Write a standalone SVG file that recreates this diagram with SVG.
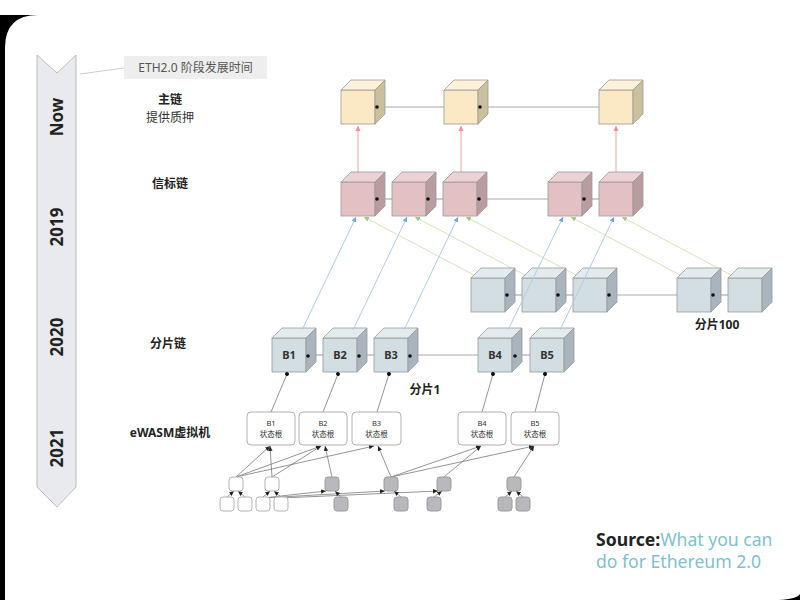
<svg xmlns="http://www.w3.org/2000/svg" width="800" height="600" viewBox="0 0 800 600">
<style>
text{font-family:"Noto Sans","Noto Sans CJK SC",sans-serif;}
.lbl{font-size:12px;font-weight:bold;fill:#222;text-anchor:middle;}
.yr{font-size:17px;font-weight:bold;fill:#222;text-anchor:middle;}
.stroke{stroke:#9a9a9a;stroke-width:0.8;}
.yf{fill:#fbe9c6}.yt{fill:#fdf2d9}.ys{fill:#cbc09e}
.pf{fill:#e3c0c3}.pt{fill:#ecd2d4}.ps{fill:#b89c9f}
.bf{fill:#d3dee3}.bt{fill:#e3ebef}.bs{fill:#a9b4be}
.chain{stroke:#aaaaaa;stroke-width:1.2;fill:none}
.pink{stroke:#f4a9b0;stroke-width:1.1;fill:none}
.blue{stroke:#aecde6;stroke-width:1;fill:none}
.green{stroke:#d3e3bf;stroke-width:1;fill:none}
.gl{stroke:#7a7a7a;stroke-width:0.8;fill:none}
.box{fill:#fff;stroke:#b0b0b0;stroke-width:1}
.bt1{font-size:7.5px;fill:#333;text-anchor:middle;}
.cl{font-size:11px;font-weight:bold;fill:#333;text-anchor:middle;}
.wsq{fill:#fff;stroke:#b4b4b4;stroke-width:1}
.gsq{fill:#b9b9bd;stroke:#9c9c9c;stroke-width:1}
</style>
<defs>
<marker id="dot" markerUnits="userSpaceOnUse" markerWidth="6" markerHeight="6" refX="3" refY="3" orient="auto"><circle cx="3" cy="3" r="2" fill="#111"/></marker>
<marker id="ap" markerUnits="userSpaceOnUse" markerWidth="6" markerHeight="6" refX="5" refY="3" orient="auto"><path d="M0,0.5 L5,3 L0,5.5 Z" fill="#f08a96"/></marker>
<marker id="ab" markerUnits="userSpaceOnUse" markerWidth="6" markerHeight="6" refX="5" refY="3" orient="auto"><path d="M0,0.5 L5,3 L0,5.5 Z" fill="#6fa8d6"/></marker>
<marker id="ag" markerUnits="userSpaceOnUse" markerWidth="6" markerHeight="6" refX="5" refY="3" orient="auto"><path d="M0,0.5 L5,3 L0,5.5 Z" fill="#a9c47f"/></marker>
<marker id="ak" markerUnits="userSpaceOnUse" markerWidth="6" markerHeight="6" refX="5" refY="3" orient="auto"><path d="M0,0.8 L5,3 L0,5.2 Z" fill="#222"/></marker>
<g id="cy" class="stroke"><rect class="yf" x="0" y="0" width="34" height="34"/><polygon class="yt" points="0,0 10,-10 44,-10 34,0"/><polygon class="ys" points="34,0 44,-10 44,24 34,34"/></g>
<g id="cp" class="stroke"><rect class="pf" x="0" y="0" width="34" height="34"/><polygon class="pt" points="0,0 10,-10 44,-10 34,0"/><polygon class="ps" points="34,0 44,-10 44,24 34,34"/></g>
<g id="cb" class="stroke"><rect class="bf" x="0" y="0" width="34" height="34"/><polygon class="bt" points="0,0 10,-10 44,-10 34,0"/><polygon class="bs" points="34,0 44,-10 44,24 34,34"/></g>
</defs>

<!-- frame -->
<rect x="0" y="0" width="800" height="600" fill="#fff"/>
<rect x="0" y="15" width="800" height="585" fill="#000"/>
<path d="M5,48 Q5,15 38,15 L800,15 L800,594 Q796,600 772,600 L5,600 Z" fill="#fff"/>

<!-- timeline -->
<g id="timeline">
<path d="M37,55 L57,73 L76,55 L76,487 L57,507 L37,487 Z" fill="#e9eaed" stroke="#bdbdbd" stroke-width="1"/>
<text class="yr" transform="translate(63,117) rotate(-90)">Now</text>
<text class="yr" transform="translate(63,227) rotate(-90)">2019</text>
<text class="yr" transform="translate(63,337) rotate(-90)">2020</text>
<text class="yr" transform="translate(63,448) rotate(-90)">2021</text>
</g>
<g id="callout">
<line x1="80" y1="74" x2="124" y2="68" stroke="#d0d0d0" stroke-width="1.2"/>
<rect x="124" y="56" width="143" height="23" fill="#eeeeee"/>
<text x="195.5" y="72" font-size="12" fill="#555" text-anchor="middle">ETH2.0 阶段发展时间</text>
</g>

<!-- row labels -->
<g id="labels">
<text class="lbl" x="170" y="104">主链</text>
<text x="170" y="122" font-size="12" fill="#333" text-anchor="middle">提供质押</text>
<text class="lbl" x="170" y="188">信标链</text>
<text class="lbl" x="168" y="348">分片链</text>
<text class="lbl" x="170" y="437" font-size="13.5">eWASM虚拟机</text>
<text class="lbl" x="425" y="394">分片1</text>
<text class="lbl" x="717" y="329">分片100</text>
</g>

<!-- connectors (behind) -->
<g id="connectors">
<path class="chain" marker-end="url(#dot)" d="M444,107 L377,107"/>
<path class="chain" marker-end="url(#dot)" d="M599,107 L480,107"/>
<path class="chain" marker-end="url(#dot)" d="M392,199 L377,199"/>
<path class="chain" marker-end="url(#dot)" d="M443,199 L428,199"/>
<path class="chain" marker-end="url(#dot)" d="M548,199 L479,199"/>
<path class="chain" marker-end="url(#dot)" d="M599,199 L584,199"/>
<path class="chain" marker-end="url(#dot)" d="M522,295 L507,295"/>
<path class="chain" marker-end="url(#dot)" d="M573,295 L558,295"/>
<path class="chain" marker-end="url(#dot)" d="M677,295 L609,295"/>
<path class="chain" marker-end="url(#dot)" d="M728,295 L713,295"/>
<path class="chain" marker-end="url(#dot)" d="M323,355 L308,355"/>
<path class="chain" marker-end="url(#dot)" d="M374,355 L359,355"/>
<path class="chain" marker-end="url(#dot)" d="M478,355 L410,355"/>
<path class="chain" marker-end="url(#dot)" d="M530,355 L515,355"/>
<path class="pink" marker-end="url(#ap)" d="M358,174 L358,126"/>
<path class="pink" marker-end="url(#ap)" d="M461,174 L461,126"/>
<path class="pink" marker-end="url(#ap)" d="M616,174 L616,126"/>
<path class="green" marker-end="url(#ag)" d="M474,275 L364,217"/>
<path class="green" marker-end="url(#ag)" d="M525,275 L415,217"/>
<path class="green" marker-end="url(#ag)" d="M576,275 L466,217"/>
<path class="green" marker-end="url(#ag)" d="M680,275 L571,217"/>
<path class="green" marker-end="url(#ag)" d="M731,275 L622,217"/>
</g>

<!-- main chain -->
<g id="main1"><use href="#cy" x="341" y="90"/></g>
<g id="main2"><use href="#cy" x="444" y="90"/></g>
<g id="main3"><use href="#cy" x="599" y="90"/></g>
<!-- beacon chain -->
<g id="beacon1"><use href="#cp" x="341" y="182"/></g>
<g id="beacon2"><use href="#cp" x="392" y="182"/></g>
<g id="beacon3"><use href="#cp" x="443" y="182"/></g>
<g id="beacon4"><use href="#cp" x="548" y="182"/></g>
<g id="beacon5"><use href="#cp" x="599" y="182"/></g>
<!-- shard 100 -->
<g id="s100a"><use href="#cb" x="471" y="278"/></g>
<g id="s100b"><use href="#cb" x="522" y="278"/></g>
<g id="s100c"><use href="#cb" x="573" y="278"/></g>
<g id="s100d"><use href="#cb" x="677" y="278"/></g>
<g id="s100e"><use href="#cb" x="728" y="278"/></g>
<!-- shard 1 -->
<g id="sB1"><use href="#cb" x="272" y="338"/><text class="cl" x="289" y="359">B1</text></g>
<g id="sB2"><use href="#cb" x="323" y="338"/><text class="cl" x="340" y="359">B2</text></g>
<g id="sB3"><use href="#cb" x="374" y="338"/><text class="cl" x="391" y="359">B3</text></g>
<g id="sB4"><use href="#cb" x="478" y="338"/><text class="cl" x="495" y="359">B4</text></g>
<g id="sB5"><use href="#cb" x="530" y="338"/><text class="cl" x="547" y="359">B5</text></g>

<!-- connectors drawn over -->
<g id="connectors2">
<g fill="#111">
<circle cx="377" cy="107" r="1.8"/><circle cx="480" cy="107" r="1.8"/>
<circle cx="377" cy="199" r="1.8"/><circle cx="428" cy="199" r="1.8"/><circle cx="479" cy="199" r="1.8"/><circle cx="584" cy="199" r="1.8"/>
<circle cx="507" cy="295" r="1.8"/><circle cx="558" cy="295" r="1.8"/><circle cx="609" cy="295" r="1.8"/><circle cx="713" cy="295" r="1.8"/>
<circle cx="308" cy="356" r="1.8"/><circle cx="359" cy="356" r="1.8"/><circle cx="410" cy="356" r="1.8"/><circle cx="515" cy="356" r="1.8"/>
</g>
<path class="blue" marker-end="url(#ab)" d="M302,330 L356,217"/>
<path class="blue" marker-end="url(#ab)" d="M353,330 L407,217"/>
<path class="blue" marker-end="url(#ab)" d="M404,330 L458,217"/>
<path class="blue" marker-end="url(#ab)" d="M508,330 L563,217"/>
<path class="blue" marker-end="url(#ab)" d="M560,330 L614,217"/>
<path class="gl" marker-end="url(#dot)" d="M271,412 L287,374"/>
<path class="gl" marker-end="url(#dot)" d="M323,412 L338,374"/>
<path class="gl" marker-end="url(#dot)" d="M377,412 L389,374"/>
<path class="gl" marker-end="url(#dot)" d="M482,412 L493,374"/>
<path class="gl" marker-end="url(#dot)" d="M535,412 L545,374"/>
<path class="gl" marker-end="url(#ak)" d="M236,477 L270,446"/>
<path class="gl" marker-end="url(#ak)" d="M236,477 L321,446"/>
<path class="gl" marker-end="url(#ak)" d="M236,477 L374,446"/>
<path class="gl" marker-end="url(#ak)" d="M272,477 L270,446"/>
<path class="gl" marker-end="url(#ak)" d="M272,477 L321,446"/>
<path class="gl" marker-end="url(#ak)" d="M332,477 L325,446"/>
<path class="gl" marker-end="url(#ak)" d="M391,477 L378,446"/>
<path class="gl" marker-end="url(#ak)" d="M391,477 L481,446"/>
<path class="gl" marker-end="url(#ak)" d="M391,477 L534,446"/>
<path class="gl" marker-end="url(#ak)" d="M444,477 L481,446"/>
<path class="gl" marker-end="url(#ak)" d="M514,477 L534,446"/>
<path class="gl" marker-end="url(#ak)" d="M227,497 L234,491"/>
<path class="gl" marker-end="url(#ak)" d="M245,497 L238,491"/>
<path class="gl" marker-end="url(#ak)" d="M263,497 L270,491"/>
<path class="gl" marker-end="url(#ak)" d="M281,497 L274,491"/>
<path class="gl" marker-end="url(#ak)" d="M263,498 L326,491"/>
<path class="gl" marker-end="url(#ak)" d="M263,498 L385,491"/>
<path class="gl" marker-end="url(#ak)" d="M281,498 L438,491"/>
<path class="gl" marker-end="url(#ak)" d="M341,497 L335,491"/>
<path class="gl" marker-end="url(#ak)" d="M401,497 L394,491"/>
<path class="gl" marker-end="url(#ak)" d="M434,497 L442,491"/>
<path class="gl" marker-end="url(#ak)" d="M505,497 L512,491"/>
<path class="gl" marker-end="url(#ak)" d="M523,497 L516,491"/>
</g>

<!-- eWASM boxes -->
<g id="eB1"><rect class="box" x="247" y="412" width="48" height="33" rx="4"/><text class="bt1" x="271" y="426">B1</text><text class="bt1" x="271" y="437">状态根</text></g>
<g id="eB2"><rect class="box" x="299" y="412" width="48" height="33" rx="4"/><text class="bt1" x="323" y="426">B2</text><text class="bt1" x="323" y="437">状态根</text></g>
<g id="eB3"><rect class="box" x="352" y="412" width="49" height="33" rx="4"/><text class="bt1" x="376.5" y="426">B3</text><text class="bt1" x="376.5" y="437">状态根</text></g>
<g id="eB4"><rect class="box" x="458" y="412" width="48" height="33" rx="4"/><text class="bt1" x="482" y="426">B4</text><text class="bt1" x="482" y="437">状态根</text></g>
<g id="eB5"><rect class="box" x="511" y="412" width="48" height="33" rx="4"/><text class="bt1" x="535" y="426">B5</text><text class="bt1" x="535" y="437">状态根</text></g>

<!-- state tree -->
<g id="tree">
<rect class="wsq" x="229" y="477" width="14" height="14" rx="3"/>
<rect class="wsq" x="265" y="477" width="14" height="14" rx="3"/>
<rect class="gsq" x="325" y="477" width="14" height="14" rx="3"/>
<rect class="gsq" x="384" y="477" width="14" height="14" rx="3"/>
<rect class="gsq" x="437" y="477" width="14" height="14" rx="3"/>
<rect class="gsq" x="507" y="477" width="14" height="14" rx="3"/>
<rect class="wsq" x="220" y="497" width="14" height="14" rx="3"/>
<rect class="wsq" x="238" y="497" width="14" height="14" rx="3"/>
<rect class="wsq" x="256" y="497" width="14" height="14" rx="3"/>
<rect class="wsq" x="274" y="497" width="14" height="14" rx="3"/>
<rect class="gsq" x="334" y="497" width="14" height="14" rx="3"/>
<rect class="gsq" x="394" y="497" width="14" height="14" rx="3"/>
<rect class="gsq" x="427" y="497" width="14" height="14" rx="3"/>
<rect class="gsq" x="498" y="497" width="14" height="14" rx="3"/>
<rect class="gsq" x="516" y="497" width="14" height="14" rx="3"/>
</g>

<!-- source -->
<g id="source">
<text x="596" y="546" font-size="17.6"><tspan font-weight="bold" fill="#222">Source:</tspan><tspan fill="#7fbfcf">What you can</tspan></text>
<text x="596" y="568" font-size="17.6" fill="#7fbfcf">do for Ethereum 2.0</text>
</g>
</svg>
